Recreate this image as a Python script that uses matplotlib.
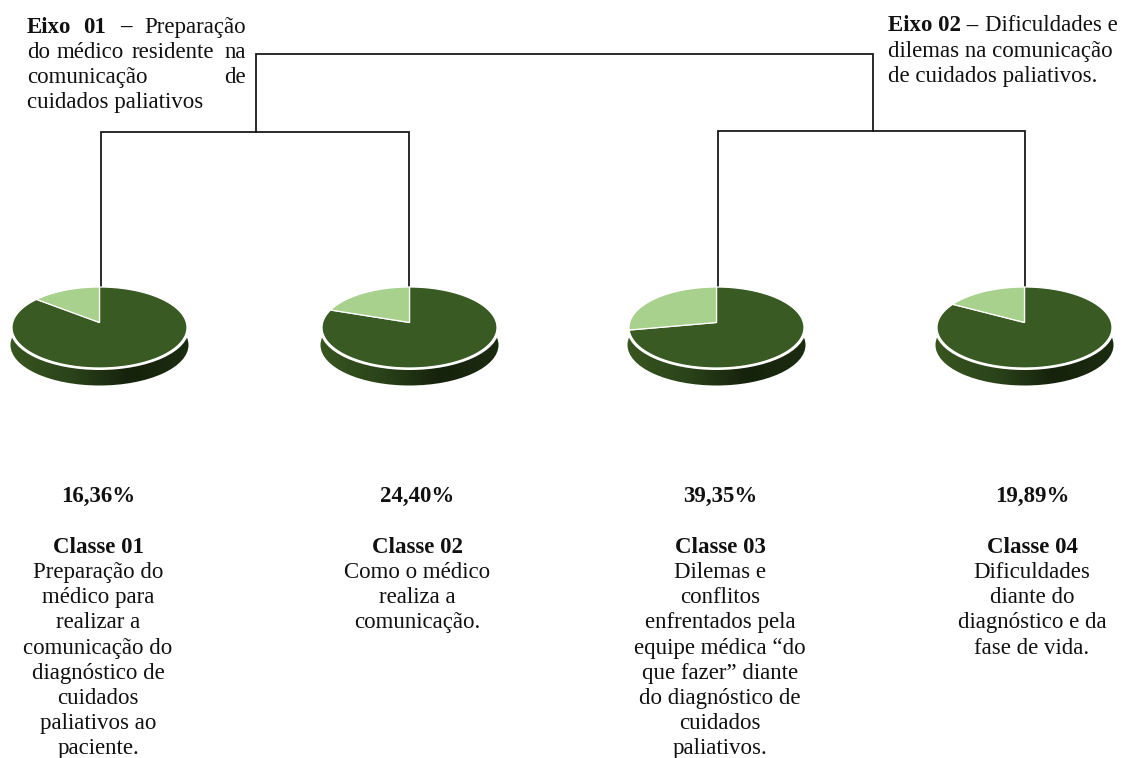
# -*- coding: utf-8 -*-
import numpy as np
import matplotlib
matplotlib.use('Agg')
import matplotlib.pyplot as plt
from matplotlib.colors import LinearSegmentedColormap
from matplotlib.patches import Ellipse

# labels printed under each pie
percent_labels = ['16,36%', '24,40%', '39,35%', '19,89%']
class_names = ['Classe 01', 'Classe 02', 'Classe 03', 'Classe 04']
class_texts = [
    ['Preparação do', 'médico para', 'realizar a', 'comunicação do', 'diagnóstico de',
     'cuidados', 'paliativos ao', 'paciente.'],
    ['Como o médico', 'realiza a', 'comunicação.'],
    ['Dilemas e', 'conflitos', 'enfrentados pela', 'equipe médica “do', 'que fazer” diante',
     'do diagnóstico de', 'cuidados', 'paliativos.'],
    ['Dificuldades', 'diante do', 'diagnóstico e da', 'fase de vida.'],
]
# share of the light slice as drawn in the picture (not the printed percentage)
light_share = [12.8, 17.9, 26.0, 15.3]

pie_x = [99.5, 409.5, 716.5, 1024.5]
text_x = [98, 417, 720, 1032]

DARK = '#3a5a23'
LIGHT = '#a9d18e'
FONT = 'Liberation Serif'
FS = 16.5

fig = plt.figure(figsize=(11.25, 7.58), dpi=100)
ax = fig.add_axes([0, 0, 1, 1])
wall_cmap = LinearSegmentedColormap.from_list('wall', ['#38561f', '#2b431a', '#15220c', '#1c2c10'])


def draw_pie(cx, share):
    a, b, cy, apex_y = 87.5, 40.5, 327.5, 322.5
    # side wall
    wall = Ellipse((cx, 345), 2 * a + 3, 2 * b, fc='none', ec='none')
    ax.add_patch(wall)
    im = ax.imshow(np.linspace(0, 1, 200).reshape(1, -1), cmap=wall_cmap, aspect='auto',
                   extent=[cx - a - 2, cx + a + 2, 387, 330], zorder=1)
    im.set_clip_path(wall)
    # white gap between wall and top
    ax.add_patch(Ellipse((cx, 329), 2 * a + 4, 2 * b + 1, fc='white', ec='none', zorder=2))
    # top face, angle runs counterclockwise from twelve o'clock
    end = share / 100.0 * 2 * np.pi
    t_light = np.linspace(0, end, 80)
    t_dark = np.linspace(end, 2 * np.pi, 200)
    for t, col in ((t_dark, DARK), (t_light, LIGHT)):
        xs = np.r_[cx, cx - a * np.sin(t)]
        ys = np.r_[apex_y, cy - b * np.cos(t)]
        ax.fill(xs, ys, fc=col, ec='white', lw=0.9, zorder=3)


def draw_tree():
    kw = dict(color='#1a1a1a', lw=1.3, zorder=0, solid_joinstyle='miter')
    ax.plot([256, 256, 873, 873], [132, 54, 54, 131], **kw)
    ax.plot([101, 101, 408.5, 408.5], [290, 132, 132, 290], **kw)
    ax.plot([717.5, 717.5, 1025, 1025], [290, 131, 131, 290], **kw)


def txt(x, y, s, bold=False, ha='left'):
    ax.text(x, y, s, ha=ha, va='baseline', fontsize=FS, family=FONT, color='#111111',
            fontweight='bold' if bold else 'normal')


draw_tree()
for cx, share in zip(pie_x, light_share):
    draw_pie(cx, share)

# axis headings, justified by hand
txt(27, 33, 'Eixo', True)
txt(83, 33, '01', True)
txt(120, 33, '–', True)
txt(246, 33, 'Preparação', ha='right')
txt(27, 58, 'do')
txt(57, 58, 'médico')
txt(132, 58, 'residente')
txt(246, 58, 'na', ha='right')
txt(27, 83, 'comunicação')
txt(246, 83, 'de', ha='right')
txt(27, 108, 'cuidados paliativos')

txt(888, 31, 'Eixo 02 –', True)
txt(1118, 31, 'Dificuldades e', ha='right')
txt(888, 57, 'dilemas na comunicação')
txt(888, 82, 'de cuidados paliativos.')

# pie captions
for i in range(4):
    txt(text_x[i], 502, percent_labels[i], True, 'center')
    txt(text_x[i], 553, class_names[i], True, 'center')
    for j, line in enumerate(class_texts[i]):
        txt(text_x[i], 578 + j * 25.2, line, ha='center')

ax.set_xlim(0, 1125)
ax.set_ylim(758, 0)
ax.axis('off')
fig.savefig('out.png', dpi=100)
